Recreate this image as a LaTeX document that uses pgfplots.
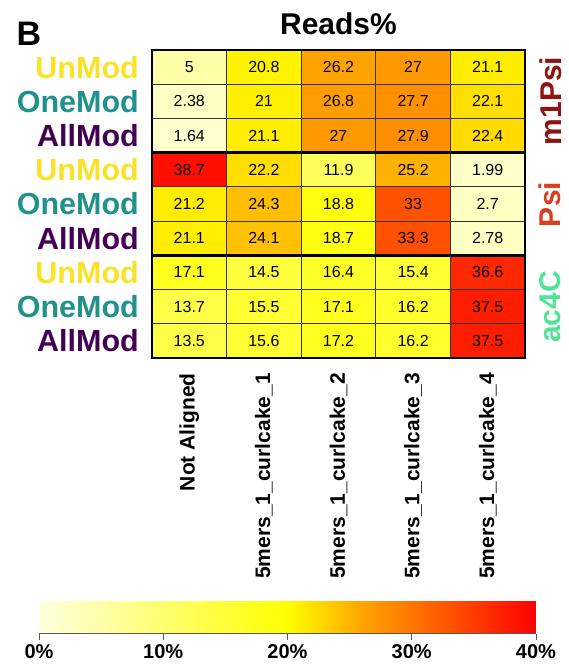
\documentclass[border=0pt]{standalone}
\usepackage{pgfplots}
\pgfplotsset{compat=1.18}
\usepackage{pgfplotstable}
\usepackage{fontspec}
\setmainfont{Liberation Sans}
\usetikzlibrary{calc}

\definecolor{unmod}{RGB}{250,226,40}
\definecolor{onemod}{RGB}{33,145,140}
\definecolor{allmod}{RGB}{68,1,84}
\definecolor{mpsi}{RGB}{140,20,20}
\definecolor{psi}{RGB}{218,62,30}
\definecolor{acfc}{RGB}{80,228,150}

% percentage of reads per reference (columns) and sample (rows, top to bottom)
\pgfplotstableread{
x y v
0 0 5
1 0 20.8
2 0 26.2
3 0 27
4 0 21.1
0 1 2.38
1 1 21
2 1 26.8
3 1 27.7
4 1 22.1
0 2 1.64
1 2 21.1
2 2 27
3 2 27.9
4 2 22.4
0 3 38.7
1 3 22.2
2 3 11.9
3 3 25.2
4 3 1.99
0 4 21.2
1 4 24.3
2 4 18.8
3 4 33
4 4 2.7
0 5 21.1
1 5 24.1
2 5 18.7
3 5 33.3
4 5 2.78
0 6 17.1
1 6 14.5
2 6 16.4
3 6 15.4
4 6 36.6
0 7 13.7
1 7 15.5
2 7 17.1
3 7 16.2
4 7 37.5
0 8 13.5
1 8 15.6
2 8 17.2
3 8 16.2
4 8 37.5
}\reads

\begin{document}
\begin{tikzpicture}
\useasboundingbox (0,0) rectangle (569pt,666pt);
\begin{axis}[
  name=hm,
  at={(152pt,308pt)}, anchor=south west,
  width=373pt, height=308pt, scale only axis,
  xmin=-0.5, xmax=4.5, ymin=-0.5, ymax=8.5, y dir=reverse,
  xtick={0,...,4},
  xticklabels={Not Aligned,5mers\_1\_curlcake\_1,5mers\_1\_curlcake\_2,5mers\_1\_curlcake\_3,5mers\_1\_curlcake\_4},
  xticklabel style={rotate=90, anchor=east, inner sep=0pt, font=\fontsize{21}{21}\selectfont\bfseries},
  xticklabel shift=15pt,
  ytick={0,...,8},
  yticklabels={\textcolor{unmod}{UnMod},\textcolor{onemod}{OneMod},\textcolor{allmod}{AllMod},
               \textcolor{unmod}{UnMod},\textcolor{onemod}{OneMod},\textcolor{allmod}{AllMod},
               \textcolor{unmod}{UnMod},\textcolor{onemod}{OneMod},\textcolor{allmod}{AllMod}},
  yticklabel style={anchor=east, inner sep=0pt, font=\fontsize{30.5}{30.5}\selectfont\bfseries},
  yticklabel shift=13pt,
  major tick length=0pt, minor tick length=0pt,
  minor xtick={0.5,1.5,2.5,3.5},
  minor ytick={0.5,1.5,2.5,3.5,4.5,5.5,6.5,7.5},
  xminorgrids, yminorgrids,
  minor grid style={black!80, line width=0.8pt},
  extra y ticks={2.5,5.5}, extra y tick labels={},
  extra y tick style={grid=major, major grid style={black, line width=2.8pt}, major tick length=0pt},
  axis on top,
  axis line style={black, line width=1.6pt},
  point meta min=0, point meta max=40,
  colormap={reads}{rgb255(0pt)=(255,255,224) rgb255(20pt)=(255,255,0) rgb255(26pt)=(255,165,0) rgb255(40pt)=(255,0,0)},
  colorbar horizontal,
  colorbar/width=32pt,
  colorbar style={
    at={($(parent axis.south west)+(-113pt,-267pt)$)}, anchor=south west,
    width=497pt, height=32pt, scale only axis,
    xtick={0,10,20,30,40},
    xticklabels={0\%,10\%,20\%,30\%,40\%},
    xticklabel style={font=\fontsize{20}{20}\selectfont\bfseries, inner sep=1pt},
    xticklabel shift=4pt,
    xticklabel pos=lower, xtick pos=lower,
    ytick=\empty, minor xtick={}, minor ytick={}, extra y ticks={},
    xminorgrids=false, yminorgrids=false,
    tick align=outside, major tick length=6pt,
    tick style={black!65, line width=0.8pt},
    axis line style={draw=none},
    after end axis/.code={\draw[black!65, line width=0.8pt] (rel axis cs:0,0) -- (rel axis cs:1,0);},
  },
]
\addplot[matrix plot*, mesh/cols=5, point meta=explicit,
  nodes near coords={\pgfmathprintnumber[fixed,precision=2,assume math mode=true]{\pgfplotspointmeta}},
  every node near coord/.append style={anchor=center, text=black, font=\fontsize{16}{16}\selectfont},
] table[x=x, y=y, meta=v] {\reads};
\end{axis}

\node[anchor=base, font=\fontsize{30}{30}\selectfont\bfseries] at (338.5pt,631pt) {Reads\%};
\node[anchor=base west, font=\fontsize{34}{34}\selectfont\bfseries] at (13pt,620.5pt) {B};

\node[rotate=90, text=mpsi, font=\fontsize{30}{30}\selectfont\bfseries] at (551pt,565pt) {m1Psi};
\node[rotate=90, text=psi, font=\fontsize{30}{30}\selectfont\bfseries] at (550pt,461.5pt) {Psi};
\node[rotate=90, text=acfc, font=\fontsize{30}{30}\selectfont\bfseries] at (550pt,359pt) {ac4C};
\end{tikzpicture}
\end{document}
